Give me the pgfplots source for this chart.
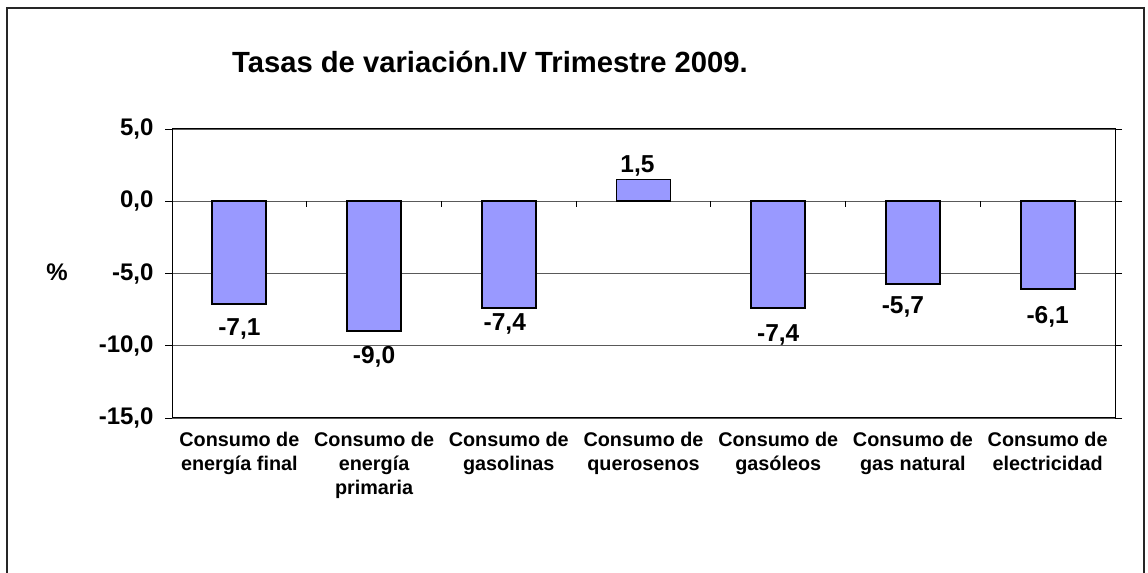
\documentclass[border=0pt]{standalone}
\usepackage{pgfplots}
\pgfplotsset{compat=1.18}
\usepackage{pgfplotstable}
\usepackage{fontspec}
\setmainfont{Liberation Sans}
\definecolor{barfill}{HTML}{9999FF}
\pgfplotstableread{
x y dx dy
0 -7.1 0 -25.5
1 -9.0 0 -26
2 -7.4 -4 -16
3 1.5 -6 14
4 -7.4 0 -27
5 -5.7 -10 -23
6 -6.1 0 -27
}\datatable
\begin{document}
\begin{tikzpicture}[x=1bp,y=1bp]
\begin{axis}[
  at={(172bp,155bp)}, anchor=south west,
  width=943bp, height=289bp, scale only axis,
  xmin=-0.5, xmax=6.5, ymin=-15, ymax=5,
  ytick={-15,-10,-5,0,5},
  ymajorgrids, grid style={black!65, line width=0.9bp},
  axis line style={black, line width=1bp},
  tick align=outside, major tick length=7bp,
  ytick style={black, line width=0.9bp},
  xtick={0,...,6}, xtick style={draw=none},
  xticklabels={{Consumo de\\energía final},{Consumo de\\energía\\primaria},{Consumo de\\gasolinas},{Consumo de\\querosenos},{Consumo de\\gasóleos},{Consumo de\\gas natural},{Consumo de\\electricidad}},
  xticklabel style={align=center, font=\fontsize{19.8bp}{24bp}\selectfont\bfseries, yshift=-4bp},
  yticklabel style={font=\fontsize{24bp}{28bp}\selectfont\bfseries, xshift=-8bp},
  /pgf/number format/.cd, assume math mode=true, fixed, fixed zerofill, precision=1, use comma,
  /pgfplots/.cd,
  ybar, bar width=54bp, bar shift=0pt,
  nodes near coords,
  visualization depends on={\thisrow{dx} \as \labdx},
  visualization depends on={\thisrow{dy} \as \labdy},
  nodes near coords style={anchor=center, xshift=\labdx bp, yshift=\labdy bp, font=\fontsize{24.5bp}{28bp}\selectfont\bfseries, text=black},
  clip=false,
]
\addplot[fill=barfill, draw=black, line width=1.8bp] table[x=x, y=y] {\datatable};
\pgfplotsinvokeforeach{0.5,1.5,2.5,3.5,4.5,5.5}{
  \draw[black, line width=0.9bp] (axis cs:#1,0) -- ([yshift=-6bp]axis cs:#1,0);
}
\end{axis}
\node[font=\fontsize{29.2bp}{33bp}\selectfont\bfseries] at (490,511) {Tasas de variación.IV Trimestre 2009.};
\node[font=\fontsize{24bp}{28bp}\selectfont\bfseries] at (57,301) {\%};
\draw[black!85, line width=2bp] (7,-20) -- (7,565) -- (1144,565) -- (1144,-20);
\pgfresetboundingbox
\useasboundingbox (0,0) rectangle (1148,573);
\end{tikzpicture}
\end{document}
